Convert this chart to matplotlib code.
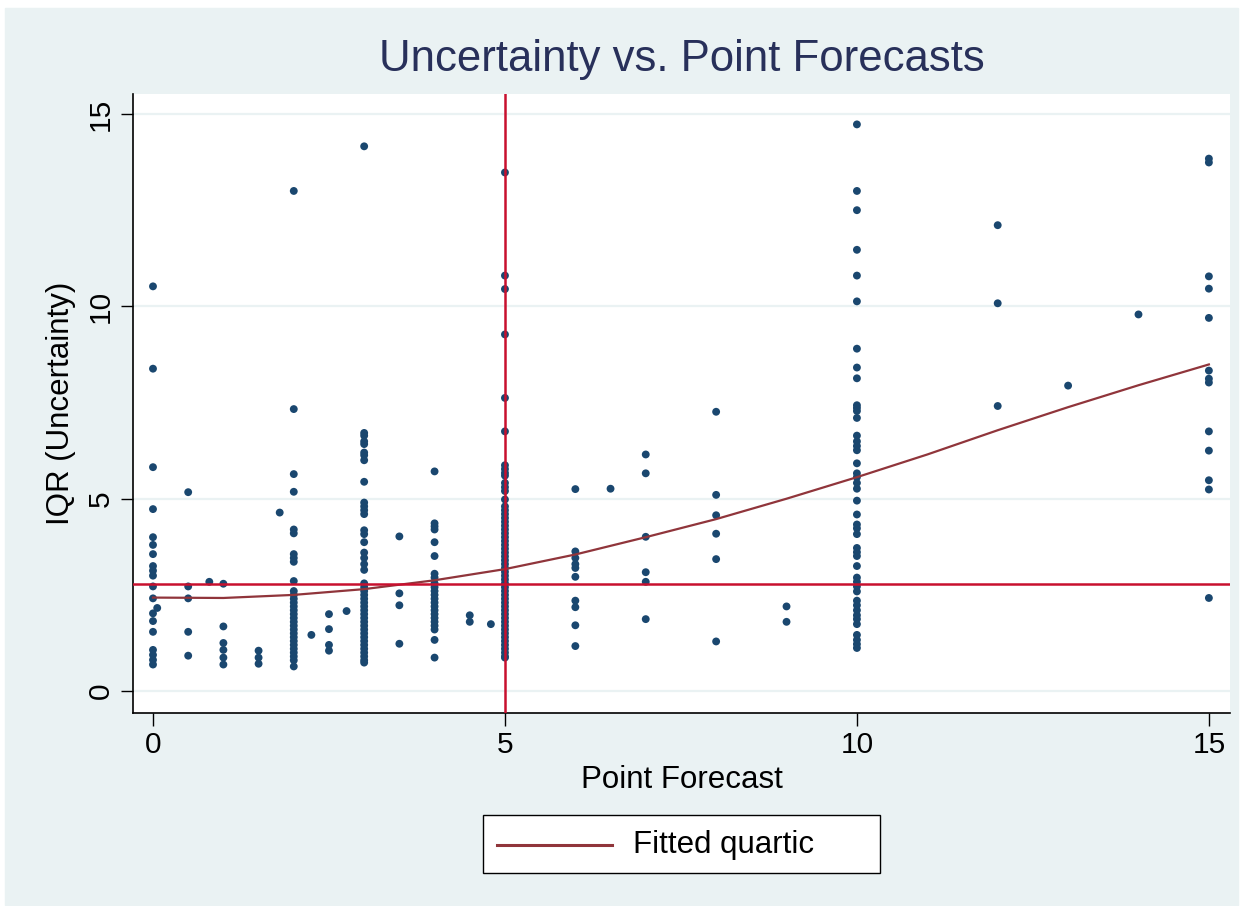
import numpy as np
import matplotlib
matplotlib.use("Agg")
import matplotlib.pyplot as plt
from matplotlib.patches import Rectangle
from matplotlib.lines import Line2D

# point forecast columns and the IQR values
forecast_cols = [0, 0.06, 0.5, 0.8, 1, 1.5, 1.8, 2, 2.25, 2.5, 2.75, 3, 3.5,
                 4, 4.5, 4.8, 5, 6, 6.5, 7, 8, 9, 10, 12, 13, 14, 15]
iqr_cols = [
    [10.52, 8.38, 5.82, 4.73, 4.00, 3.80, 3.56, 3.25, 3.13, 3.00, 2.72, 2.41,
     2.02, 1.82, 1.54, 1.07, 0.94, 0.81, 0.69],
    [2.16],
    [5.17, 2.72, 2.41, 1.54, 0.92],
    [2.84],
    [2.79, 1.68, 1.25, 1.07, 0.87, 0.69],
    [1.05, 0.87, 0.71],
    [4.64],
    [13.0, 7.33, 5.64, 5.18, 4.2, 4.1, 3.56, 3.46, 3.36, 2.86,
     2.6, 2.5, 2.4, 2.3, 2.2, 2.1, 2.0, 1.9, 1.8, 1.7, 1.6, 1.5, 1.4, 1.3,
     1.2, 1.1, 1.0, 0.9, 0.8, 0.64],
    [1.46],
    [2.0, 1.61, 1.2, 1.05],
    [2.08],
    [14.16, 6.71, 6.64, 6.49, 6.42, 6.2, 6.13, 6.0, 5.44, 4.9, 4.8, 4.7, 4.6,
     4.18, 4.08, 3.87, 3.6, 3.46, 3.3, 3.15,
     2.8, 2.7, 2.6, 2.5, 2.4, 2.3, 2.2, 2.1, 2.0, 1.9, 1.8, 1.7, 1.6, 1.5,
     1.4, 1.3, 1.2, 1.1, 1.0, 0.9, 0.8, 0.74],
    [4.02, 2.54, 2.23, 1.23],
    [5.71, 4.36, 4.28, 4.2, 3.87, 3.51, 3.05, 2.95,
     2.8, 2.7, 2.6, 2.5, 2.4, 2.3, 2.2, 2.1, 2.0, 1.9, 1.8, 1.7, 1.6,
     1.33, 0.87],
    [1.97, 1.80],
    [1.74],
    [13.48, 10.8, 10.45, 9.27, 7.62, 6.75, 5.87, 5.77, 5.67, 5.6, 5.41, 5.3,
     5.2, 4.98,
     4.8, 4.7, 4.6, 4.5, 4.4, 4.3, 4.2, 4.1, 4.0, 3.9, 3.8, 3.7, 3.6, 3.5,
     3.4, 3.3, 3.2, 3.1, 3.0, 2.9, 2.8, 2.7, 2.6, 2.5, 2.4, 2.3, 2.2, 2.1,
     2.0, 1.9, 1.8, 1.7, 1.6, 1.5, 1.4, 1.3, 1.2, 1.1, 1.0, 0.9, 0.87],
    [5.25, 3.63, 3.46, 3.3, 3.2, 2.97, 2.35, 2.18, 1.71, 1.17],
    [5.26],
    [6.15, 5.66, 4.01, 3.09, 2.84, 1.87],
    [7.26, 5.1, 4.57, 4.09, 3.43, 1.29],
    [2.2, 1.8],
    [14.73, 13.0, 12.5, 11.47, 10.8, 10.13, 8.9, 8.41, 8.13, 7.43, 7.36,
     7.28, 7.1, 6.64, 6.49, 6.37, 6.26, 5.92, 5.66, 5.56, 5.41, 5.26, 4.95,
     4.59, 4.33, 4.23, 4.08, 3.72, 3.61, 3.51, 3.25, 2.95, 2.84, 2.72, 2.59,
     2.35, 2.23, 2.1, 1.97, 1.87, 1.74, 1.46, 1.33, 1.22, 1.12],
    [12.11, 10.08, 7.41],
    [7.94],
    [9.79],
    [13.84, 13.74, 10.78, 10.46, 9.70, 8.33, 8.12, 8.02, 6.75, 6.25, 5.48,
     5.24, 2.42],
]

# fitted quartic
fit_x = list(range(16))
fit_y = [2.43, 2.42, 2.50, 2.65, 2.88, 3.17, 3.55, 4.00, 4.47, 5.00, 5.56,
         6.15, 6.78, 7.38, 7.95, 8.49]

ref_x = 5       # vertical reference line
ref_y = 2.79    # horizontal reference line

NAVY, MAROON, CRIMSON = "#1a476f", "#90353b", "#c8102e"
BG, TITLE = "#eaf2f3", "#28305a"

plt.rcParams["font.family"] = ["Liberation Sans", "DejaVu Sans"]

xs = np.concatenate([[x] * len(ys) for x, ys in zip(forecast_cols, iqr_cols)])
ys = np.concatenate(iqr_cols)

W, H = 1244, 906
fig = plt.figure(figsize=(W / 100, H / 100), dpi=100, facecolor="white")
fig.patches.append(Rectangle((5 / W, 1 - 905 / H), 1233 / W, 897 / H,
                             transform=fig.transFigure, color=BG, zorder=-10))

ax = fig.add_axes([133 / W, 1 - 713 / H, (1230 - 133) / W, (713 - 94) / H])
ax.set_facecolor("white")
ax.set_xlim(-0.284, 15.30)
ax.set_ylim(-0.57, 15.52)

for g in [0, 5, 10, 15]:
    ax.axhline(g, color=BG, lw=1.6, zorder=0)

ax.scatter(xs, ys, s=32, color=NAVY, edgecolor="none", zorder=3)
ax.plot(fit_x, fit_y, color=MAROON, lw=1.6, zorder=4)
ax.axvline(ref_x, color=CRIMSON, lw=1.8, zorder=5)
ax.axhline(ref_y, color=CRIMSON, lw=1.8, zorder=5)

for s in ["top", "right"]:
    ax.spines[s].set_visible(False)
for s in ["left", "bottom"]:
    ax.spines[s].set_color("black")
    ax.spines[s].set_linewidth(1.2)

ax.set_xticks([0, 5, 10, 15])
ax.set_yticks([0, 5, 10, 15])
ax.tick_params(axis="both", length=9, width=1.0, labelsize=21.5, pad=4)
for lab in ax.get_yticklabels():
    lab.set_rotation(90)
    lab.set_va("center")

ax.set_xlabel("Point Forecast", fontsize=22.5, labelpad=4)
ax.set_ylabel("IQR (Uncertainty)", fontsize=22.5, labelpad=8)
fig.text(682 / W, 1 - 60 / H, "Uncertainty vs. Point Forecasts",
         ha="center", va="center", fontsize=31.5, color=TITLE)

# legend box drawn by hand so its padding matches the original
fig.patches.append(Rectangle((483 / W, 1 - 873 / H), 397 / W, 58 / H,
                             transform=fig.transFigure, facecolor="white",
                             edgecolor="black", lw=1.0, zorder=5))
fig.lines.append(Line2D([497 / W, 612 / W], [1 - 845 / H, 1 - 845 / H],
                        transform=fig.transFigure, color=MAROON, lw=2.2,
                        zorder=6))
fig.text(633 / W, 1 - 845 / H, "Fitted quartic", ha="left", va="center",
         fontsize=22.5, zorder=7)

fig.savefig("out.png", dpi=100, facecolor=fig.get_facecolor())
